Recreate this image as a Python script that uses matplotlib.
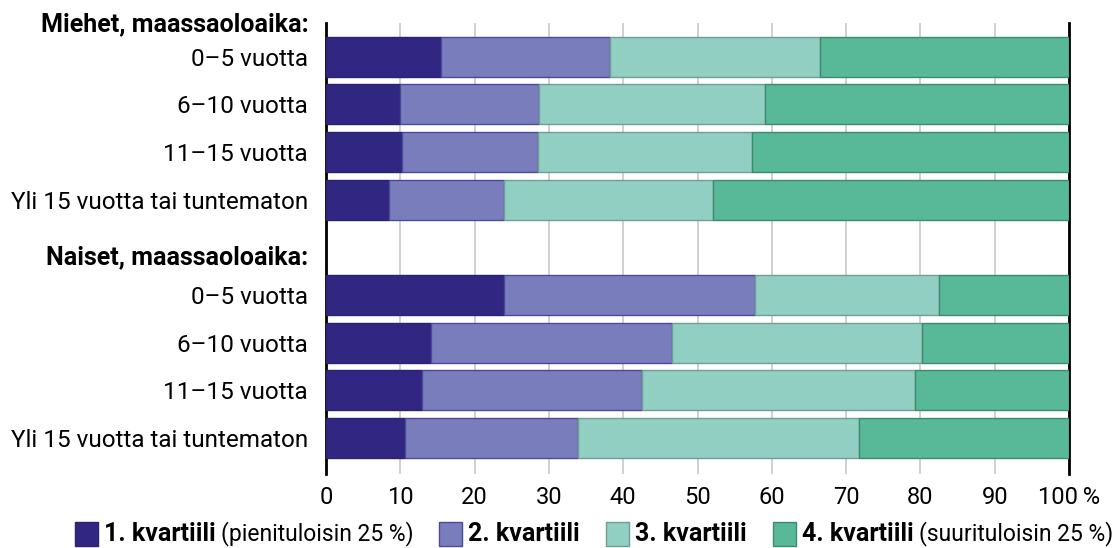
import matplotlib
matplotlib.use("Agg")
import matplotlib.pyplot as plt
from matplotlib.patches import Rectangle

plt.rcParams['font.family'] = ['Roboto', 'DejaVu Sans']

# data (percent)
groups = ["Miehet, maassaoloaika:", "Naiset, maassaoloaika:"]
categories = ["0–5 vuotta", "6–10 vuotta", "11–15 vuotta", "Yli 15 vuotta tai tuntematon"]
q1_men = [15.5, 10.0, 10.2, 8.5]
q2_men = [22.7, 18.7, 18.3, 15.5]
q3_men = [28.3, 30.4, 28.8, 28.1]
q4_men = [33.5, 40.9, 42.7, 47.9]
q1_women = [24.0, 14.1, 12.9, 10.6]
q2_women = [33.7, 32.5, 29.6, 23.3]
q3_women = [24.8, 33.6, 36.8, 37.8]
q4_women = [17.5, 19.8, 20.7, 28.3]
series_bold = ["1. kvartiili", "2. kvartiili", "3. kvartiili", "4. kvartiili"]
series_extra = ["(pienituloisin 25 %)", "", "", "(suurituloisin 25 %)"]

colors = ["#312783", "#7a7dbb", "#92cfc3", "#57b997"]
edges = ["#2a2270", "#4a4a9a", "#6f9e92", "#3f8a6e"]

fig = plt.figure(figsize=(11.17, 5.48), dpi=100)
ax = fig.add_axes([326/1117, 1-474/548, 743/1117, 451/548])

rows = [1, 2, 3, 4, 6, 7, 8, 9]
data = [q1_men + q1_women, q2_men + q2_women, q3_men + q3_women, q4_men + q4_women]
left = [0]*8
for i in range(4):
    vals = data[i]
    ax.barh(rows, vals, left=left, height=0.84, color=colors[i],
            edgecolor=edges[i], linewidth=1.0, zorder=3)
    left = [l + v for l, v in zip(left, vals)]

ax.set_xlim(0, 100)
ax.set_ylim(9.76, 0.29)
ax.set_xticks(range(0, 101, 10))
ax.set_xticklabels([str(t) for t in range(0, 100, 10)] + ["100\u202f%"])
ax.grid(axis='x', color="#c8c8c8", linewidth=1.2, zorder=0)
ax.tick_params(axis='x', length=0, labelsize=17, pad=9)
for s in ['top', 'bottom']:
    ax.spines[s].set_visible(False)
ax.spines['left'].set_linewidth(2)
ax.spines['right'].set_linewidth(2)

ax.set_yticks(rows)
ax.set_yticklabels(categories + categories)
ax.tick_params(axis='y', length=0, labelsize=17.5, pad=13)

ax.text(-0.024, 0.31, groups[0], transform=ax.get_yaxis_transform(),
        ha='right', va='center', fontsize=18, fontweight='bold')
ax.text(-0.024, 5.21, groups[1], transform=ax.get_yaxis_transform(),
        ha='right', va='center', fontsize=18, fontweight='bold')

# legend built by hand (bold + normal text)
fig.canvas.draw()
r = fig.canvas.get_renderer()
x = 75
y = 1 - 534/548
W = 1117
for i in range(4):
    fig.patches.append(Rectangle((x/W, y - 12/548), 23/W, 24/548,
                                 transform=fig.transFigure, facecolor=colors[i],
                                 edgecolor=edges[i], linewidth=1.0))
    x += 29
    t = fig.text(x/W, y, series_bold[i], fontsize=18, fontweight='bold', va='center')
    x += t.get_window_extent(r).width
    if series_extra[i]:
        x += 5
        t2 = fig.text(x/W, y, series_extra[i], fontsize=16.5, va='center')
        x += t2.get_window_extent(r).width
    x += 26

fig.savefig("out.png", dpi=100)
